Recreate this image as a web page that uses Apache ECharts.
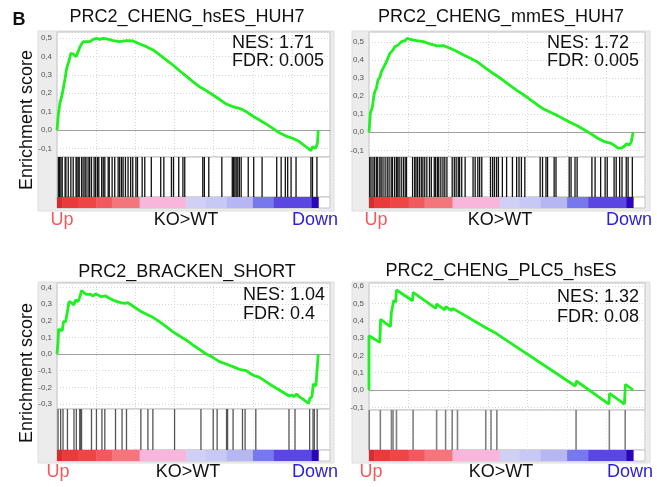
<!DOCTYPE html>
<html><head><meta charset="utf-8">
<script src="https://cdn.jsdelivr.net/npm/echarts@6/dist/echarts.min.js"></script>
<style>html,body{margin:0;padding:0;background:#fff}#c{width:657px;height:487px}</style>
</head><body><div id="c"></div>
<script>
// ---------------- data ----------------
const panelLetter = 'B';
const panelTitles = ['PRC2_CHENG_hsES_HUH7', 'PRC2_CHENG_mmES_HUH7', 'PRC2_BRACKEN_SHORT', 'PRC2_CHENG_PLC5_hsES'];
const nesValues = ['1.71', '1.72', '1.04', '1.32'];
const fdrValues = ['0.005', '0.005', '0.4', '0.08'];
const yAxisName = 'Enrichment score';
const rankLabels = ['Up', 'KO>WT', 'Down'];

// running enrichment score: [rank position in % of list, ES]
const esCurve1 = [[0,0],[0.5,0.082],[1.1,0.145],[1.8,0.181],[2.4,0.226],[3.1,0.281],[3.7,0.335],[4.3,0.362],[5.0,0.399],[5.3,0.417],[6.2,0.413],[7.3,0.399],[8.1,0.426],[8.8,0.453],[10.0,0.480],[11.3,0.480],[12.6,0.480],[13.9,0.493],[15.2,0.498],[16.4,0.493],[17.7,0.498],[19.0,0.495],[21.5,0.486],[24.0,0.480],[26.6,0.486],[29.1,0.484],[31.7,0.467],[34.2,0.453],[36.8,0.435],[39.3,0.408],[41.9,0.380],[44.4,0.353],[46.9,0.322],[49.5,0.293],[52.0,0.263],[54.6,0.235],[57.1,0.214],[59.7,0.190],[62.2,0.167],[64.8,0.141],[67.3,0.127],[69.8,0.118],[72.4,0.100],[74.9,0.076],[77.5,0.054],[80.0,0.033],[82.6,0.009],[85.1,-0.015],[87.7,-0.033],[90.2,-0.045],[92.7,-0.063],[95.3,-0.091],[97.2,-0.112],[97.8,-0.091],[98.9,-0.100],[99.7,-0.072],[100,0]];
const esCurve2 = [[0,0],[0.25,0.050],[0.5,0.105],[0.9,0.123],[1.3,0.142],[1.8,0.197],[2.2,0.225],[2.8,0.243],[3.4,0.289],[4.1,0.304],[4.7,0.335],[5.3,0.344],[6.0,0.372],[6.6,0.390],[7.2,0.400],[7.9,0.436],[8.5,0.436],[9.1,0.455],[9.8,0.473],[10.4,0.477],[11.1,0.483],[11.7,0.492],[12.3,0.501],[13.0,0.501],[13.6,0.506],[14.5,0.519],[15.5,0.514],[18.0,0.506],[20.6,0.501],[23.1,0.488],[25.7,0.477],[28.2,0.479],[30.7,0.464],[33.3,0.446],[35.8,0.427],[38.4,0.409],[40.9,0.390],[43.4,0.363],[46.0,0.335],[48.5,0.311],[51.1,0.284],[53.6,0.256],[56.1,0.230],[58.7,0.206],[61.2,0.179],[63.8,0.151],[66.3,0.127],[68.9,0.109],[71.4,0.092],[73.9,0.072],[76.5,0.053],[79.0,0.035],[81.6,0.013],[84.1,-0.009],[86.6,-0.033],[89.2,-0.052],[91.7,-0.061],[93.0,-0.074],[94.3,-0.088],[94.9,-0.098],[95.5,-0.088],[96.2,-0.079],[96.8,-0.076],[97.4,-0.064],[98.1,-0.057],[98.7,-0.070],[99.3,-0.052],[99.7,-0.042],[100,0]];
const esCurve3 = [[0,0],[0.4,0.068],[0.6,0.148],[1.3,0.154],[2.0,0.140],[2.5,0.194],[3.3,0.194],[3.9,0.188],[4.2,0.274],[4.6,0.314],[5.5,0.308],[6.4,0.294],[7.1,0.324],[8.0,0.314],[8.7,0.340],[9.4,0.380],[10.2,0.370],[11.2,0.358],[11.8,0.354],[12.7,0.358],[13.8,0.348],[14.8,0.360],[15.7,0.354],[16.9,0.344],[18.6,0.348],[20.1,0.334],[22.0,0.320],[23.9,0.310],[25.9,0.304],[27.1,0.308],[29.0,0.288],[31.6,0.260],[34.1,0.240],[36.7,0.220],[39.2,0.194],[41.8,0.164],[44.3,0.134],[46.9,0.108],[49.4,0.084],[52.0,0.054],[54.5,0.028],[57.1,0],[59.6,-0.020],[62.2,-0.046],[64.7,-0.060],[67.3,-0.076],[69.8,-0.092],[72.4,-0.100],[74.9,-0.126],[77.5,-0.140],[80.0,-0.166],[82.5,-0.192],[85.1,-0.216],[87.6,-0.240],[88.9,-0.252],[89.9,-0.246],[90.8,-0.256],[91.7,-0.240],[92.7,-0.256],[94.6,-0.276],[96.3,-0.296],[96.8,-0.266],[97.6,-0.256],[98.1,-0.180],[99.1,-0.192],[99.5,-0.196],[100,0]];
const esCurve4 = [[0,0],[0,0.313],[4.1,0.275],[4.4,0.408],[8.1,0.365],[8.5,0.448],[9.1,0.442],[9.4,0.519],[10.1,0.506],[10.4,0.577],[16.5,0.515],[16.7,0.563],[25.3,0.471],[25.6,0.496],[28.7,0.462],[29.1,0.481],[31.3,0.458],[31.6,0.471],[33.2,0.458],[33.5,0.467],[43.9,0.362],[44.2,0.365],[45.8,0.346],[46.2,0.350],[48.1,0.327],[48.4,0.331],[78.1,0.023],[78.5,0.052],[90.8,-0.081],[91.1,-0.019],[96.7,-0.081],[97.1,0.033],[100,0]];

// gene-set hit positions (% of ranked list)
const hits1 = [0.5,1.0,1.5,2.0,3.1,3.4,4.3,5.3,6.2,7.3,7.6,8.1,8.5,9.4,10.0,10.7,11.1,11.9,12.5,13.2,14.2,14.8,15.5,16.0,17.1,17.7,18.3,19.6,20.0,21.1,22.1,23.4,24.0,24.7,25.3,26.2,27.2,28.2,29.0,30.2,30.8,32.6,33.6,36.1,39.7,40.9,43.8,44.6,46.6,48.2,48.9,55.8,56.4,58.1,63.1,67.1,67.6,68.1,68.6,69.2,69.8,70.5,73.2,75.3,78.5,84.1,85.8,87.4,88.3,89.6,91.5,97.2,97.8,99.5];
const hits2 = [0.27,0.76,1.5,2.1,2.8,3.3,4.1,4.6,5.3,6.1,6.9,7.6,8.4,8.9,9.7,10.4,10.9,11.4,12.2,13.0,13.7,14.2,16.5,17.3,17.8,18.4,19.1,19.8,20.4,21.1,21.9,22.9,23.6,24.7,25.2,25.9,26.4,27.2,28.0,28.7,29.5,31.5,32.3,33.0,33.8,34.3,35.1,36.4,39.4,40.2,41.2,41.9,42.7,46.0,46.8,47.5,48.3,49.0,50.5,52.1,54.3,55.9,56.8,57.7,59.0,64.8,65.7,67.0,67.6,70.1,70.8,75.8,76.5,78.0,78.8,84.4,85.6,87.7,89.4,90.2,92.8,93.6,94.9,95.8,97.4,98.1,99.7];
const hits3 = [0.4,1.4,2.3,4.0,6.5,7.4,8.7,9.0,9.4,13.2,15.1,17.2,18.3,22.4,24.9,26.6,32.1,34.8,36.7,45.0,55.1,59.8,61.3,64.9,65.3,67.4,71.0,72.0,76.1,88.8,91.1,96.7,98.0,98.5,99.6];
const hits4 = [0.1,4.3,8.5,9.1,10.4,16.7,25.6,29.0,31.5,33.5,44.2,46.2,48.4,78.4,91.0,97.0];

// ranked-list colour bar: block boundaries (% of list)
const rankBlockBreaks = [0, 2, 8, 15, 21, 31.6, 49.5, 57, 65, 75, 83, 97.5, 100];

// ---------------- styles / layout ----------------
const blockColors = ['#d42e2e','#e93b3b','#ee4646','#f05a5e','#f2767c','#f8b6dc','#d0d0f6','#c8c8f6','#b6b6f3','#7878ee','#5a46e0','#2a06b8'];
const FONT = '"Liberation Sans", Arial, Helvetica, sans-serif';
const XMAX = 104.5;
const panels = [
  {es: esCurve1, hits: hits1, left: 57, width: 273, top: 32, esH: 125, bcH: 40, cbH: 11, yMin: -0.1467, yMax: 0.5326,
   frame: [38, 31, 296, 180], title: [187, 17], stats: [232, 43.5, 61.5], ylab: [27, 120], xl: [62, 186, 315], xlY: 220, hitColor: '#111', hitW: 1.3},
  {es: esCurve2, hits: hits2, left: 369, width: 276, top: 32, esH: 125, bcH: 40, cbH: 11, yMin: -0.1365, yMax: 0.5541,
   frame: [352, 31, 298, 180], title: [501, 17], stats: [547, 43, 61.5], ylab: null, xl: [376, 500, 629], xlY: 220, hitColor: '#111', hitW: 1.3},
  {es: esCurve3, hits: hits3, left: 57, width: 273, top: 283, esH: 126, bcH: 41, cbH: 11, yMin: -0.33, yMax: 0.4259,
   frame: [38, 282, 296, 181], title: [187, 272], stats: [243, 295.5, 314], ylab: [27, 373], xl: [58, 188, 315], xlY: 472, hitColor: '#555', hitW: 1.3},
  {es: esCurve4, hits: hits4, left: 369, width: 276, top: 283, esH: 127, bcH: 40, cbH: 11, yMin: -0.1154, yMax: 0.6174,
   frame: [352, 282, 298, 181], title: [501, 271], stats: [557, 297.5, 317], ylab: null, xl: [371, 501, 630], xlY: 472, hitColor: '#808080', hitW: 1.6}
];

const grid = [], xAxis = [], yAxis = [], series = [], graphics = [];
const fmt = v => (Math.abs(v) < 1e-9 ? '0,0' : v.toFixed(1).replace('.', ','));

panels.forEach((p, i) => {
  const gES = i * 3, gBC = i * 3 + 1, gCB = i * 3 + 2;
  const gridStyle = {show: true, backgroundColor: '#fff', borderColor: '#c4c4c4', borderWidth: 1};
  grid.push(Object.assign({left: p.left, width: p.width, top: p.top, height: p.esH}, gridStyle));
  grid.push(Object.assign({left: p.left, width: p.width, top: p.top + p.esH, height: p.bcH}, gridStyle));
  grid.push(Object.assign({left: p.left, width: p.width, top: p.top + p.esH + p.bcH, height: p.cbH}, gridStyle));

  const dotted = {show: true, lineStyle: {color: '#d6d6d6', type: [1, 2], width: 1}};
  xAxis.push({gridIndex: gES, type: 'value', min: 0, max: XMAX, interval: 15,
    axisLine: {show: true, onZero: true, lineStyle: {color: '#a0a0a0', width: 1}},
    axisTick: {show: false}, axisLabel: {show: false}, splitLine: dotted});
  yAxis.push({gridIndex: gES, type: 'value', min: p.yMin, max: p.yMax, splitNumber: 7,
    axisLine: {show: false}, axisTick: {show: false},
    axisLabel: {show: true, fontSize: 8, color: '#555', margin: 5, fontFamily: FONT,
      showMinLabel: false, showMaxLabel: false, formatter: fmt},
    splitLine: dotted});
  xAxis.push({gridIndex: gBC, type: 'value', min: 0, max: XMAX, interval: 15,
    axisLine: {show: false}, axisTick: {show: false}, axisLabel: {show: false},
    splitLine: {show: true, lineStyle: {color: '#ececec', type: [1, 2]}}});
  yAxis.push({gridIndex: gBC, type: 'value', min: 0, max: 1, show: false, splitLine: {show: false}});
  xAxis.push({gridIndex: gCB, type: 'value', min: 0, max: XMAX, show: false, splitLine: {show: false}});
  yAxis.push({gridIndex: gCB, type: 'value', min: 0, max: 1, show: false, splitLine: {show: false}});

  series.push({type: 'line', xAxisIndex: gES, yAxisIndex: gES, data: p.es, showSymbol: false, symbol: 'none',
    lineStyle: {color: '#1ff01f', width: 2.8}, silent: true, z: 5});

  series.push({type: 'custom', xAxisIndex: gBC, yAxisIndex: gBC, data: p.hits.map(h => [h]),
    encode: {x: 0}, silent: true,
    renderItem: (params, api) => {
      const x = api.value(0);
      const a = api.coord([x, 0]), b = api.coord([x, 1]);
      return {type: 'line', shape: {x1: a[0], y1: a[1], x2: b[0], y2: b[1]},
        style: {stroke: p.hitColor, lineWidth: p.hitW}};
    }});

  const blocks = [];
  for (let k = 0; k < rankBlockBreaks.length - 1; k++) blocks.push([rankBlockBreaks[k], rankBlockBreaks[k + 1], k]);
  series.push({type: 'custom', xAxisIndex: gCB, yAxisIndex: gCB, data: blocks,
    encode: {x: [0, 1]}, silent: true,
    renderItem: (params, api) => {
      const a = api.coord([api.value(0), 1]), b = api.coord([api.value(1), 0]);
      return {type: 'rect', shape: {x: a[0], y: a[1], width: b[0] - a[0] + 0.5, height: b[1] - a[1]},
        style: {fill: blockColors[api.value(2)]}};
    }});

  graphics.push({type: 'rect', z: -10, shape: {x: p.frame[0], y: p.frame[1], width: p.frame[2], height: p.frame[3]},
    style: {fill: '#ececec', stroke: '#dedede', lineWidth: 1}});
  graphics.push({type: 'text', z: 50, x: p.title[0], y: p.title[1],
    style: {text: panelTitles[i], font: '18px ' + FONT, fill: '#111', align: 'center', verticalAlign: 'middle', textAlign: 'center', textVerticalAlign: 'middle'}});
  graphics.push({type: 'text', z: 50, x: p.stats[0], y: p.stats[1],
    style: {text: 'NES: ' + nesValues[i], font: '18px ' + FONT, fill: '#111', align: 'left', verticalAlign: 'middle', textAlign: 'left', textVerticalAlign: 'middle'}});
  graphics.push({type: 'text', z: 50, x: p.stats[0], y: p.stats[2],
    style: {text: 'FDR: ' + fdrValues[i], font: '18px ' + FONT, fill: '#111', align: 'left', verticalAlign: 'middle', textAlign: 'left', textVerticalAlign: 'middle'}});
  if (p.ylab) {
    graphics.push({type: 'text', z: 50, x: p.ylab[0], y: p.ylab[1], rotation: Math.PI / 2,
      style: {text: yAxisName, font: '18px ' + FONT, fill: '#111', align: 'center', verticalAlign: 'middle', textAlign: 'center', textVerticalAlign: 'middle'}});
  }
  const xlColors = ['#f25a5a', '#111', '#2a1ed8'];
  rankLabels.forEach((t, k) => {
    graphics.push({type: 'text', z: 50, x: p.xl[k], y: p.xlY,
      style: {text: t, font: '18px ' + FONT, fill: xlColors[k], align: 'center', verticalAlign: 'middle', textAlign: 'center', textVerticalAlign: 'middle'}});
  });
});

graphics.push({type: 'text', z: 50, x: 19, y: 20,
  style: {text: panelLetter, font: 'bold 18px ' + FONT, fill: '#111', align: 'center', verticalAlign: 'middle', textAlign: 'center', textVerticalAlign: 'middle'}});

const chart = echarts.init(document.getElementById('c'), null, {renderer: 'canvas'});
chart.setOption({
  animation: false,
  backgroundColor: '#fff',
  grid, xAxis, yAxis, series,
  graphic: {elements: graphics}
});
</script></body></html>
